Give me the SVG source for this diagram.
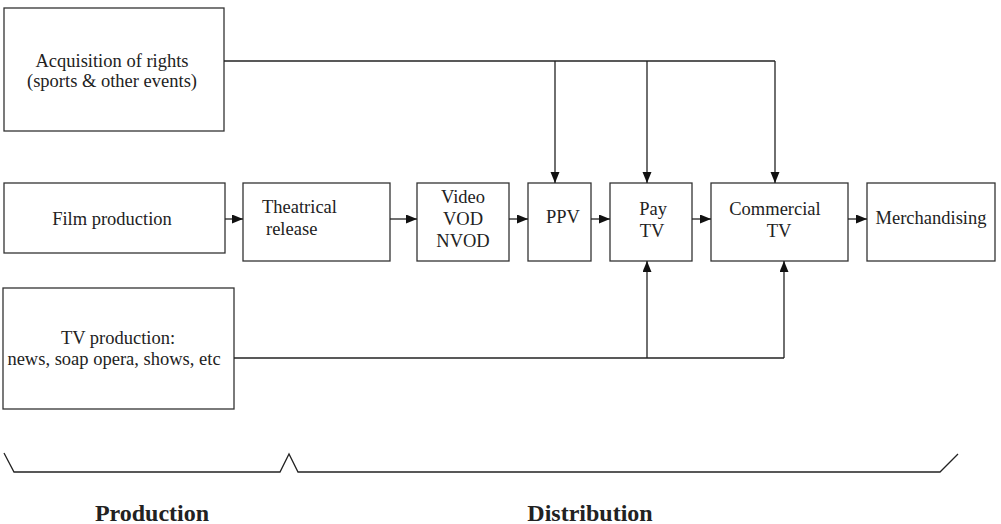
<svg xmlns="http://www.w3.org/2000/svg" width="1001" height="524" viewBox="0 0 1001 524">
<style>
.box{fill:#fff;stroke:#333;stroke-width:1.3}
text{font-family:'Liberation Serif','Times New Roman','DejaVu Serif',serif;fill:#222}
.t{font-size:18.5px;text-anchor:middle}
.ts{font-size:18.5px}
.c{fill:none;stroke:#222;stroke-width:1.3}
.b{font-size:24px;font-weight:bold;text-anchor:middle}
</style>
<defs>
<marker id="ah" markerUnits="userSpaceOnUse" markerWidth="12" markerHeight="10" refX="11" refY="4.5" orient="auto">
<path d="M0,0 L11,4.5 L0,9 z" fill="#111"/>
</marker>
</defs>
<g id="acq"><rect class="box" x="4" y="8" width="220" height="123"/><text class="t" x="112" y="67">Acquisition of rights</text><text class="t" x="112" y="87">(sports &amp; other events)</text></g>
<g id="film"><rect class="box" x="4" y="183" width="221" height="70"/><text class="t" x="112" y="225">Film production</text></g>
<g id="tvprod"><rect class="box" x="3" y="288" width="231" height="121"/><text class="t" x="118" y="344">TV production:</text><text class="t" x="114" y="365">news, soap opera, shows, etc</text></g>
<g id="theatrical"><rect class="box" x="243" y="183" width="147" height="78"/><text class="ts" x="262" y="213">Theatrical</text><text class="ts" x="266" y="235">release</text></g>
<g id="video"><rect class="box" x="417" y="183" width="92" height="78"/><text class="t" x="463" y="203">Video</text><text class="t" x="463" y="225">VOD</text><text class="t" x="463" y="247">NVOD</text></g>
<g id="ppv"><rect class="box" x="528" y="183" width="63" height="78"/><text class="t" x="563" y="223">PPV</text></g>
<g id="paytv"><rect class="box" x="610" y="183" width="82" height="78"/><text class="t" x="653" y="215">Pay</text><text class="t" x="652" y="237">TV</text></g>
<g id="commercial"><rect class="box" x="711" y="183" width="137" height="78"/><text class="t" x="775" y="215">Commercial</text><text class="t" x="779" y="237">TV</text></g>
<g id="merch"><rect class="box" x="867" y="183" width="128" height="78"/><text class="t" x="931" y="224">Merchandising</text></g>
<g id="connectors">
<path class="c" d="M224,61 H775"/>
<path class="c" d="M555,61 V183" marker-end="url(#ah)"/>
<path class="c" d="M647,61 V183" marker-end="url(#ah)"/>
<path class="c" d="M775,61 V183" marker-end="url(#ah)"/>
<path class="c" d="M234,358 H784"/>
<path class="c" d="M647,358 V261" marker-end="url(#ah)"/>
<path class="c" d="M784,358 V261" marker-end="url(#ah)"/>
<path class="c" d="M225,219 H243" marker-end="url(#ah)"/>
<path class="c" d="M390,219 H417" marker-end="url(#ah)"/>
<path class="c" d="M509,219 H528" marker-end="url(#ah)"/>
<path class="c" d="M591,219 H610" marker-end="url(#ah)"/>
<path class="c" d="M692,219 H711" marker-end="url(#ah)"/>
<path class="c" d="M848,219 H867" marker-end="url(#ah)"/>
</g>
<g id="braces">
<path class="c" d="M4,453 L14,472 H280 L289,454 L298,472 H940 L958,454" stroke-width="1.1"/>
</g>
<text class="b" x="152" y="521">Production</text>
<text class="b" x="590" y="521">Distribution</text>
</svg>
